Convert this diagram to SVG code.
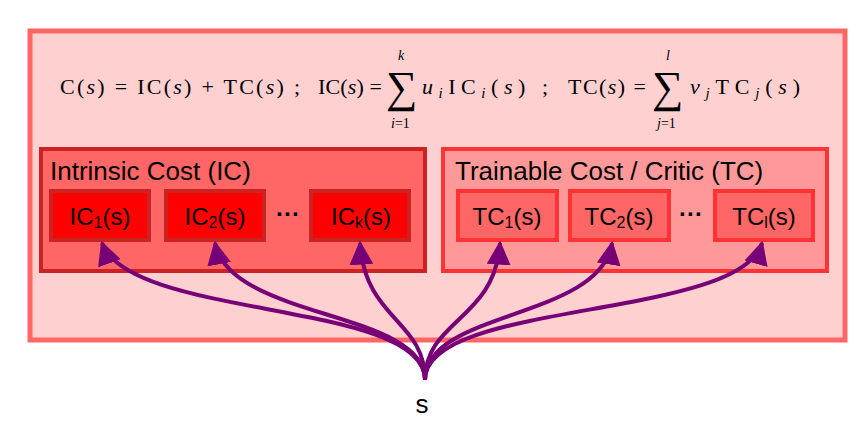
<svg xmlns="http://www.w3.org/2000/svg" width="860" height="435" viewBox="0 0 860 435">
<style>
.t{font-family:"Liberation Sans",Arial,sans-serif;fill:#000}
.m{font-family:"Liberation Serif","Times New Roman",serif;fill:#000}
.ic{fill:#ff0000;stroke:#cc2222;stroke-width:4}
.tc{fill:#ff6666;stroke:#ff3333;stroke-width:4}
.c{fill:none;stroke:#770077;stroke-width:4}
</style>
<defs><marker id="a" viewBox="0 0 10 10" refX="9" refY="5" markerWidth="6" markerHeight="6" orient="auto"><path d="M0,0L10,5L0,10z" fill="#770077"/></marker></defs>
<g id="outer"><rect x="30" y="31" width="815" height="309" fill="#ffd0d0" stroke="#ff6666" stroke-width="5"/>
<text class="m" font-size="22" x="60" y="94" textLength="240" lengthAdjust="spacing">C(<tspan font-style="italic">s</tspan>) = IC(<tspan font-style="italic">s</tspan>) + TC(<tspan font-style="italic">s</tspan>) ;</text>
<text class="m" font-size="22" x="318" y="94" textLength="64" lengthAdjust="spacing">IC(<tspan font-style="italic">s</tspan>) =</text>
<text class="m" font-size="44" x="386" y="102">∑</text>
<text class="m" font-size="14" font-style="italic" x="398" y="60">k</text>
<text class="m" font-size="14" x="391" y="128"><tspan font-style="italic">i</tspan>=1</text>
<text class="m" font-size="22" x="422" y="94" textLength="126" lengthAdjust="spacing"><tspan font-style="italic">u<tspan font-size="15" dy="4">i</tspan></tspan><tspan dy="-4">IC</tspan><tspan font-size="15" font-style="italic" dy="4">i</tspan><tspan dy="-4">(</tspan><tspan font-style="italic">s</tspan>) ;</text>
<text class="m" font-size="22" x="568" y="94" textLength="78" lengthAdjust="spacing">TC(<tspan font-style="italic">s</tspan>) =</text>
<text class="m" font-size="44" x="652" y="102">∑</text>
<text class="m" font-size="14" font-style="italic" x="666" y="60">l</text>
<text class="m" font-size="14" x="657" y="128"><tspan font-style="italic">j</tspan>=1</text>
<text class="m" font-size="22" x="690" y="94" textLength="110" lengthAdjust="spacing"><tspan font-style="italic">v<tspan font-size="15" dy="4">j</tspan></tspan><tspan dy="-4">TC</tspan><tspan font-size="15" font-style="italic" dy="4">j</tspan><tspan dy="-4">(</tspan><tspan font-style="italic">s</tspan>)</text>
</g>
<g id="IC"><rect x="41" y="149" width="384" height="122" fill="#ff6666" stroke="#cc2222" stroke-width="4"/>
<text class="t" font-size="26" x="50" y="180">Intrinsic Cost (IC)</text></g>
<g id="IC1"><rect class="ic" x="51" y="191" width="98" height="49"/><text class="t" font-size="24" x="100" y="225" text-anchor="middle">IC<tspan font-size="16" dy="3">1</tspan><tspan dy="-3">(s)</tspan></text></g>
<g id="IC2"><rect class="ic" x="166" y="191" width="98" height="49"/><text class="t" font-size="24" x="215" y="225" text-anchor="middle">IC<tspan font-size="16" dy="3">2</tspan><tspan dy="-3">(s)</tspan></text></g>
<text class="t" font-size="24" x="288" y="222" text-anchor="middle" font-weight="bold">···</text>
<g id="ICk"><rect class="ic" x="311" y="191" width="98" height="49"/><text class="t" font-size="24" x="361" y="225" text-anchor="middle">IC<tspan font-size="16" dy="3">k</tspan><tspan dy="-3">(s)</tspan></text></g>
<g id="TC"><rect x="443" y="149" width="384" height="122" fill="#ff9999" stroke="#ff3333" stroke-width="4"/>
<text class="t" font-size="26" x="455" y="180">Trainable Cost / Critic (TC)</text></g>
<g id="TC1"><rect class="tc" x="458" y="191" width="99" height="49"/><text class="t" font-size="24" x="507" y="225" text-anchor="middle">TC<tspan font-size="16" dy="3">1</tspan><tspan dy="-3">(s)</tspan></text></g>
<g id="TC2"><rect class="tc" x="570" y="191" width="99" height="49"/><text class="t" font-size="24" x="619" y="225" text-anchor="middle">TC<tspan font-size="16" dy="3">2</tspan><tspan dy="-3">(s)</tspan></text></g>
<text class="t" font-size="24" x="691" y="222" text-anchor="middle" font-weight="bold">···</text>
<g id="TCl"><rect class="tc" x="715" y="191" width="98" height="49"/><text class="t" font-size="24" x="764" y="225" text-anchor="middle">TC<tspan font-size="16" dy="3">l</tspan><tspan dy="-3">(s)</tspan></text></g>
<g id="connectors">
<path class="c" marker-end="url(#a)" d="M425,380 C425,300 130,320 102,243"/>
<path class="c" marker-end="url(#a)" d="M425,380 C425,310 230,320 215,243"/>
<path class="c" marker-end="url(#a)" d="M425,380 C425,320 365,320 360,243"/>
<path class="c" marker-end="url(#a)" d="M425,380 C425,320 495,320 500,243"/>
<path class="c" marker-end="url(#a)" d="M425,380 C425,310 600,320 612,243"/>
<path class="c" marker-end="url(#a)" d="M425,380 C425,300 740,320 762,243"/>
</g>
<g id="s"><text class="t" font-size="26" x="422" y="413" text-anchor="middle">s</text></g>
</svg>
